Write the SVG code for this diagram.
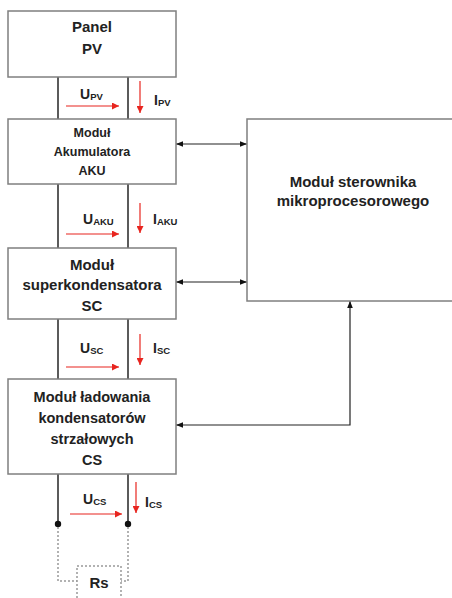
<svg xmlns="http://www.w3.org/2000/svg" width="452" height="598" viewBox="0 0 452 598">
<defs>
<style>
.box{fill:#fff;stroke:#7f7f7f;stroke-width:1.5}
.t{font-family:"Liberation Sans",Arial,sans-serif;font-weight:bold;fill:#222;text-anchor:middle}
.lbl{font-family:"Liberation Sans",Arial,sans-serif;font-weight:bold;fill:#222}
.wire{stroke:#333;stroke-width:1.6;fill:none}
.red{stroke:#e8251f;stroke-width:1.2;fill:none}
.blk{stroke:#222;stroke-width:1.2;fill:none}
.dot{stroke:#999;stroke-width:1.5;stroke-dasharray:2 2;fill:none}
</style>
<marker id="ar" viewBox="0 0 10 10" refX="10" refY="5" markerWidth="7" markerHeight="7" markerUnits="userSpaceOnUse" orient="auto-start-reverse"><path d="M0,0 L10,5 L0,10 z" fill="#e8251f"/></marker>
<marker id="ab" viewBox="0 0 10 10" refX="10" refY="5" markerWidth="7" markerHeight="7" markerUnits="userSpaceOnUse" orient="auto-start-reverse"><path d="M0,1 L10,5 L0,9 z" fill="#111"/></marker>
</defs>
<rect width="452" height="598" fill="#fff"/>

<g id="connectors">
<path class="wire" d="M58,77 V119 M128,77 V119"/>
<path class="wire" d="M58,184 V248 M128,184 V248"/>
<path class="wire" d="M58,319 V379 M128,319 V379"/>
<path class="wire" d="M58,474 V524 M128,474 V524"/>
<circle cx="58" cy="524" r="3.2" fill="#111"/>
<circle cx="128" cy="524" r="3.2" fill="#111"/>
<path class="dot" d="M58,527 V581 H77 M128,527 V581 H121"/>
<path class="red" d="M66,106 H119" marker-end="url(#ar)"/>
<path class="red" d="M140,81 V113" marker-end="url(#ar)"/>
<path class="red" d="M66,234 H119" marker-end="url(#ar)"/>
<path class="red" d="M140,203 V233" marker-end="url(#ar)"/>
<path class="red" d="M66,367 H119" marker-end="url(#ar)"/>
<path class="red" d="M140,334 V365" marker-end="url(#ar)"/>
<path class="red" d="M70,514 H122" marker-end="url(#ar)"/>
<path class="red" d="M136,482 V513" marker-end="url(#ar)"/>
<path class="blk" d="M176,144 H247" marker-start="url(#ab)" marker-end="url(#ab)"/>
<path class="blk" d="M176,282 H247" marker-start="url(#ab)" marker-end="url(#ab)"/>
<path class="blk" d="M176,425 H350 V301" marker-start="url(#ab)" marker-end="url(#ab)"/>
</g>

<g id="labels">
<text class="lbl" x="80" y="99" font-size="14">U<tspan font-size="9.5" dy="1">PV</tspan></text>
<text class="lbl" x="154" y="105" font-size="14">I<tspan font-size="9.5" dy="1">PV</tspan></text>
<text class="lbl" x="83" y="224" font-size="14">U<tspan font-size="9.5" dy="1">AKU</tspan></text>
<text class="lbl" x="153" y="224" font-size="14">I<tspan font-size="9.5" dy="1">AKU</tspan></text>
<text class="lbl" x="80" y="353" font-size="14">U<tspan font-size="9.5" dy="1">SC</tspan></text>
<text class="lbl" x="153" y="353" font-size="14">I<tspan font-size="9.5" dy="1">SC</tspan></text>
<text class="lbl" x="83" y="504" font-size="14">U<tspan font-size="9.5" dy="1">CS</tspan></text>
<text class="lbl" x="145" y="507" font-size="14">I<tspan font-size="9.5" dy="1">CS</tspan></text>
</g>

<g id="pv">
<rect class="box" x="8" y="11" width="168" height="66"/>
<text class="t" x="92" y="32" font-size="15">Panel</text>
<text class="t" x="92" y="54" font-size="15">PV</text>
</g>

<g id="aku">
<rect class="box" x="8" y="119" width="168" height="65"/>
<text class="t" x="92" y="137" font-size="12.5">Moduł</text>
<text class="t" x="92" y="156" font-size="12.5">Akumulatora</text>
<text class="t" x="92" y="175" font-size="12.5">AKU</text>
</g>

<g id="sc">
<rect class="box" x="8" y="248" width="168" height="71"/>
<text class="t" x="92" y="270" font-size="15">Moduł</text>
<text class="t" x="92" y="290" font-size="15">superkondensatora</text>
<text class="t" x="92" y="311" font-size="15">SC</text>
</g>

<g id="cs">
<rect class="box" x="8" y="379" width="168" height="95"/>
<text class="t" x="92" y="402" font-size="14.5">Moduł ładowania</text>
<text class="t" x="92" y="423" font-size="14.5">kondensatorów</text>
<text class="t" x="92" y="444" font-size="14.5">strzałowych</text>
<text class="t" x="92" y="465" font-size="14.5">CS</text>
</g>

<g id="ctrl">
<rect class="box" x="247" y="119" width="215" height="182"/>
<text class="t" x="353" y="187" font-size="15">Moduł sterownika</text>
<text class="t" x="353" y="206" font-size="15">mikroprocesorowego</text>
</g>

<g id="rs">
<rect class="dot" x="77" y="566" width="44" height="40"/>
<text class="t" x="99" y="588" font-size="15">Rs</text>
</g>
</svg>
